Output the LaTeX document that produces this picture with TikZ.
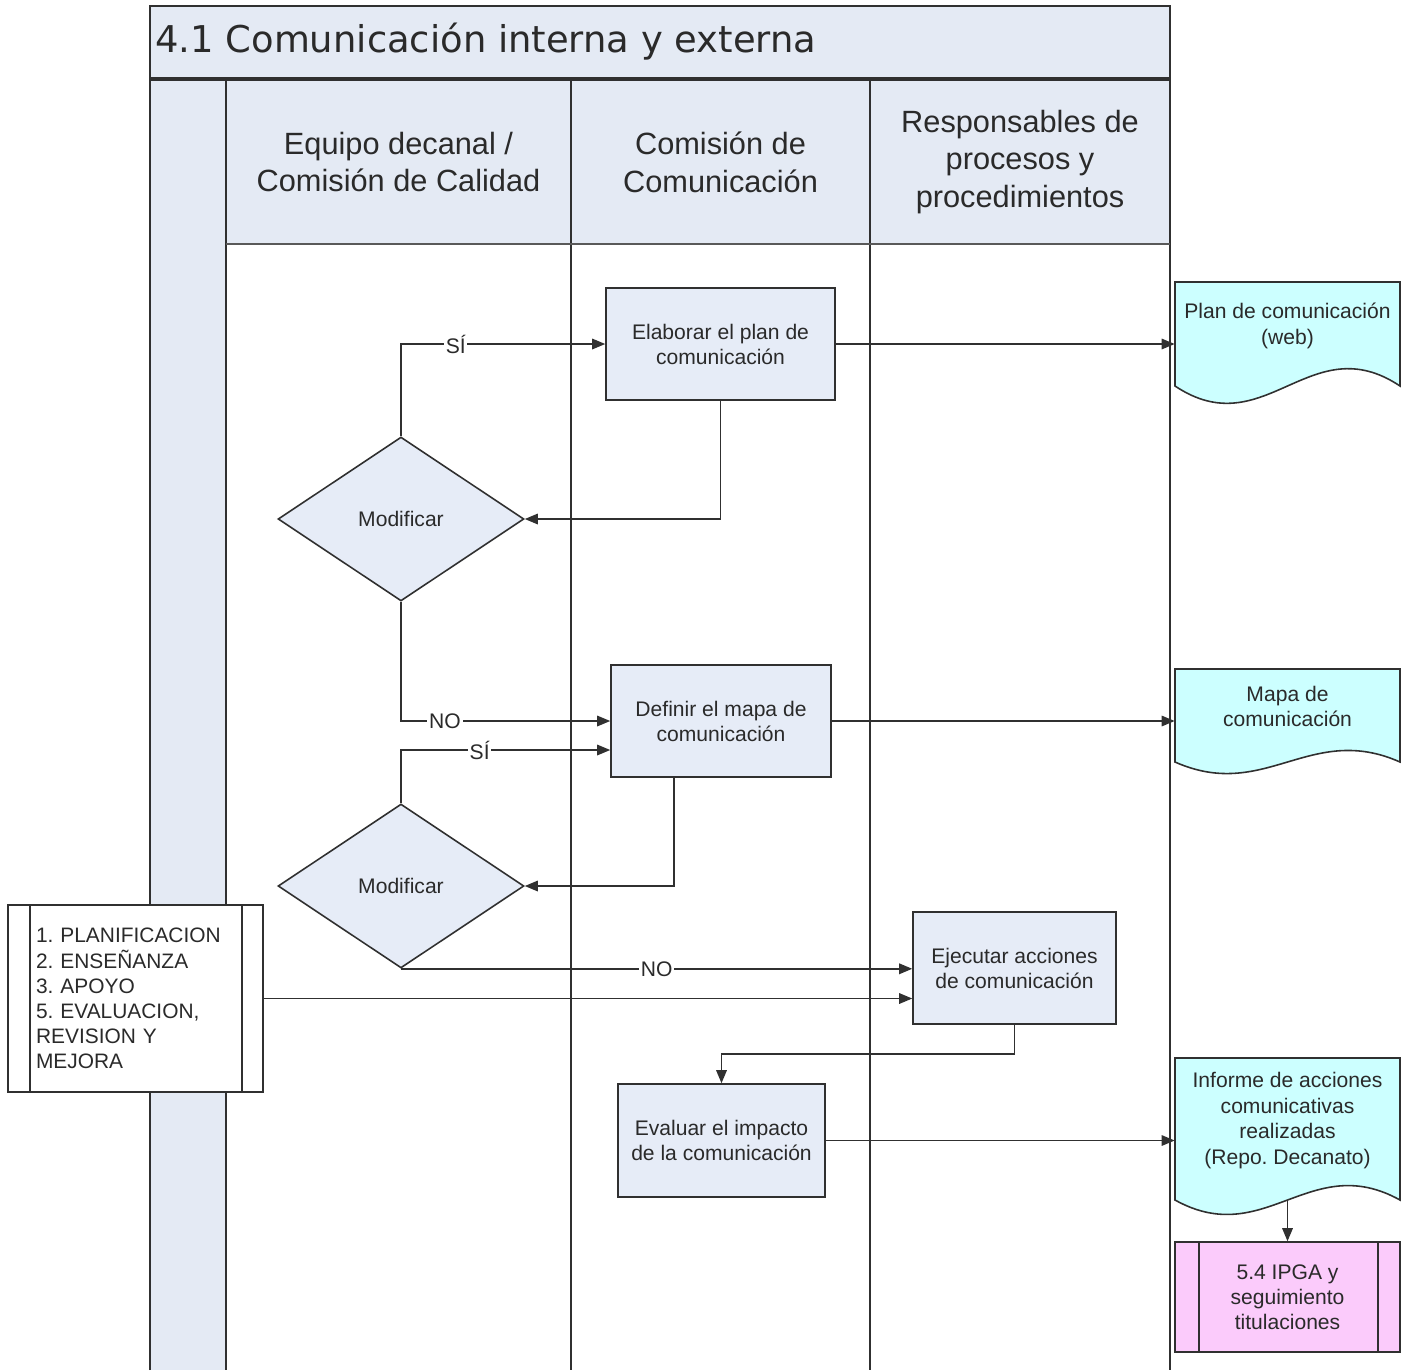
\documentclass[tikz,border=0pt]{standalone}
\usepackage{fontspec}
\setmainfont{Liberation Sans}
\newfontfamily\titlefont{DejaVu Sans}
\usetikzlibrary{arrows.meta,shapes.geometric,calc}
\frenchspacing
\definecolor{hdr}{HTML}{E4EAF4}
\definecolor{boxf}{HTML}{E6ECF7}
\definecolor{docf}{HTML}{CCFFFF}
\definecolor{pinkf}{HTML}{FBCBFB}
\definecolor{ln}{HTML}{303030}
\definecolor{txt}{HTML}{2A2A2A}
\newcommand\docshape[5]{%
  \draw[docsty] (#1,#2) -- (#3,#2) -- (#3,#4)
    .. controls ({#1+0.6*(#3-#1)},{#4-#5}) and ({#1+0.4*(#3-#1)},{#4+#5}) .. (#1,#4) -- cycle;}
\begin{document}
\begin{tikzpicture}[x=0.02cm,y=-0.02cm,
  frame/.style={draw=ln, line width=1.1pt},
  hdrtext/.style={align=center, font=\fontsize{17.5}{21.5}\selectfont, text=txt, inner sep=0pt},
  procbox/.style={draw=ln, line width=0.9pt, fill=boxf, minimum width=#1, minimum height=2.24cm,
    align=center, font=\fontsize{12}{14.2}\selectfont, text=txt, inner sep=0pt},
  decision/.style={diamond, draw=ln, line width=0.9pt, fill=boxf, minimum width=4.92cm, minimum height=3.28cm,
    inner sep=0pt, font=\fontsize{12}{14.2}\selectfont, text=txt},
  docsty/.style={draw=ln, line width=0.9pt, fill=docf},
  doctext/.style={minimum width=4.5cm, inner sep=0pt, align=center, font=\fontsize{12}{14.5}\selectfont, text=txt},
  lboxsty/.style={draw=ln, line width=0.9pt, fill=white, minimum width=5.1cm, minimum height=3.74cm,
    inner xsep=0.56cm, inner ysep=0pt, text width=3.98cm, align=left, font=\fontsize{11.9}{14.3}\selectfont, text=txt},
  pboxsty/.style={draw=ln, line width=0.9pt, fill=pinkf, minimum width=4.5cm, minimum height=2.2cm,
    inner sep=0pt, align=center, font=\fontsize{12}{14.2}\selectfont, text=txt},
  conn/.style={draw=ln, line width=0.85pt, -{Triangle[length=0.26cm, width=0.21cm]}},
  lab/.style={fill=white, inner sep=1pt, font=\fontsize{12}{14}\selectfont, text=txt}
]
\useasboundingbox (0,0) rectangle (1412,1370);
% background fills
\fill[hdr] (150,6) rectangle (1170,79);
\fill[hdr] (150,79) rectangle (226,1370);
\fill[hdr] (226,79) rectangle (1170,244);
% lane lines
\draw[frame] (150,1370) -- (150,6) -- (1170,6) -- (1170,1370);
\draw[frame, line width=1.8pt] (150,79) -- (1170,79);
\draw[frame] (226,79) -- (226,1370);
\draw[frame] (571,79) -- (571,1370);
\draw[frame] (870,79) -- (870,1370);
\draw[frame, draw=ln!80] (226,244) -- (1170,244);
% title and headers
\node[anchor=west, font=\titlefont\fontsize{21}{24}\selectfont, text=txt, inner sep=0pt] (title) at (155,42)
  {4.1 Comunicación interna y externa};
\node[hdrtext] (h1) at (398.5,162) {Equipo decanal /\\Comisión de Calidad};
\node[hdrtext] (h2) at (720.5,162) {Comisión de\\Comunicación};
\node[hdrtext] (h3) at (1020,162) {Responsables de\\procesos y\\procedimientos};
% process nodes
\node[procbox=4.58cm] (b1) at (720.5,344) {Elaborar el plan de\\comunicación};
\node[procbox=4.4cm] (b2) at (721,721) {Definir el mapa de\\comunicación};
\node[procbox=4.06cm] (b3) at (1014.5,968) {Ejecutar acciones\\de comunicación};
\node[procbox=4.14cm, minimum height=2.26cm] (b4) at (721.5,1140.5) {Evaluar el impacto\\de la comunicación};
\node[decision] (dm1) at (401,519) {Modificar};
\node[decision] (dm2) at (401,886) {Modificar};
% documents
\docshape{1175}{282}{1400}{386}{60}
\node[doctext] (d1) at (1287.5,326) {Plan de comunicación\\(web)};
\docshape{1175}{669}{1400}{762}{40}
\node[doctext] (d2) at (1287.5,706.5) {Mapa de\\comunicación};
\docshape{1175}{1058}{1400}{1200}{50}
\node[doctext] (d3) at (1287.5,1120.5) {Informe de acciones\\comunicativas\\realizadas\\(Repo. Decanato)};
\coordinate (d3b) at (1287.5,1200);
% predefined process boxes
\node[lboxsty] (lb) at (135.5,998.5) {1. PLANIFICACION\\2. ENSEÑANZA\\3. APOYO\\5. EVALUACION,\\REVISION Y\\MEJORA};
\draw[draw=ln, line width=0.9pt] ($(lb.north west)+(23,0)$) -- ($(lb.south west)+(23,0)$);
\draw[draw=ln, line width=0.9pt] ($(lb.north east)+(-22,0)$) -- ($(lb.south east)+(-22,0)$);
\node[pboxsty] (p5) at (1287.5,1297) {5.4 IPGA y\\seguimiento\\titulaciones};
\draw[draw=ln, line width=0.9pt] ($(p5.north west)+(25,0)$) -- ($(p5.south west)+(25,0)$);
\draw[draw=ln, line width=0.9pt] ($(p5.north east)+(-23,0)$) -- ($(p5.south east)+(-23,0)$);
% connectors
\draw[conn] (dm1.north) |- node[lab, pos=0.634] (l1) {SÍ} (b1.west);
\draw[conn] (b1.south) |- (dm1.east);
\draw[conn] (b1.east) -- (b1.east -| d1.west);
\draw[conn] (dm1.south) |- node[lab, pos=0.605] (l2) {NO} (b2.west);
\draw[conn] (b2.east) -- (b2.east -| d2.west);
\draw[conn] (dm2.north) |- node[lab, pos=0.688] (l3) {SÍ} ($(b2.west)+(0,29)$);
\draw[conn] ($(b2.south)+(-47,0)$) |- (dm2.east);
\draw[conn] (dm2.south) -- node[lab, pos=0.5] (l4) {NO} (dm2.south -| b3.west);
\draw[conn] (lb.east) -- (lb.east -| b3.west);
\draw[conn] (b3.south) -- ++(0,29) -| (b4.north);
\draw[conn] (b4.east) -- (b4.east -| d3.west);
\draw[conn] (d3b) -- (p5.north);
\end{tikzpicture}
\end{document}
